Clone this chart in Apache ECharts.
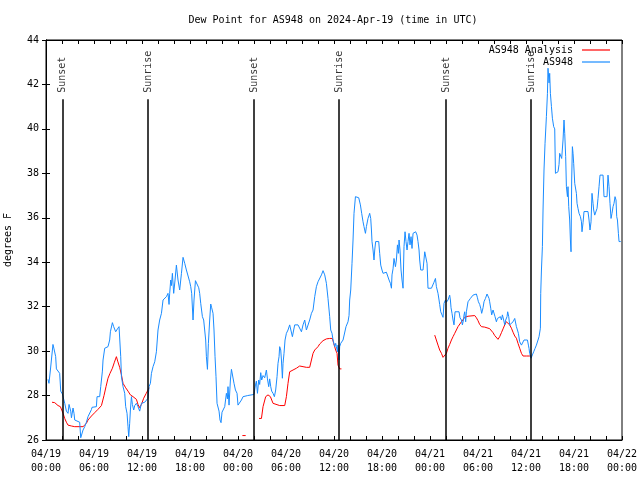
<!DOCTYPE html>
<html><head><meta charset="utf-8">
<script src="https://cdn.jsdelivr.net/npm/echarts@6/dist/echarts.min.js"></script>
<style>html,body{margin:0;padding:0;background:#fff}#c{width:640px;height:480px}</style>
</head><body><div id="c"></div>
<script>
// ---- data (hours since 2024-04-19 00:00 UTC, degrees F) ----
const titleText = 'Dew Point for AS948 on 2024-Apr-19 (time in UTC)';
const seriesNames = ['AS948 Analysis', 'AS948'];
const dayLabels = ['04/19', '04/20', '04/21', '04/22'];
const yMin = 26, yMax = 44, yStep = 2;
const xMin = 0, xMax = 72, xStep = 2, xLabelStep = 6;

// hourly analysis (null = gap)
const analysisObs = [
[0.75,27.7],[1.09,27.68],[1.3,27.6],[1.5,27.55],[1.8,27.5],[1.93,27.43],[2.13,27.2],[2.34,26.97],[2.55,26.8],[2.75,26.67],[3.18,26.63],[3.59,26.6],[4.0,26.6],[4.21,26.63],[4.63,26.6],[5.05,26.75],[5.25,26.9],[5.68,27.08],[6.09,27.23],[6.5,27.38],[6.93,27.55],[7.25,28.0],[7.5,28.4],[7.75,28.78],[8.0,29.0],[8.3,29.23],[8.55,29.5],[8.8,29.75],[8.96,29.55],[9.21,29.27],[9.43,28.93],[9.63,28.55],[9.96,28.35],[10.25,28.2],[10.55,28.03],[10.88,27.95],[11.3,27.83],[11.5,27.6],[11.68,27.46],[11.93,27.6],[12.21,27.88],[12.53,28.1],[12.75,28.25],[12.88,28.35],
[13.5,null],
[24.55,26.2],[24.96,26.2],
[25.8,null],
[26.63,26.97],[26.93,26.97],[27.13,27.5],[27.46,27.95],[27.75,28.03],[28.05,27.95],[28.38,27.65],[28.59,27.57],[29.21,27.55],[29.84,27.55],[30.05,27.95],[30.25,28.55],[30.46,29.07],[30.88,29.15],[31.3,29.23],[31.71,29.33],[32.13,29.3],[32.55,29.27],[32.96,29.27],[33.18,29.6],[33.38,29.9],[33.59,30.05],[34.0,30.2],[34.21,30.32],[34.63,30.47],[35.05,30.55],[35.46,30.57],[35.8,30.57],[35.96,30.35],[36.21,30.05],[36.38,29.9],[36.5,29.37],[36.71,29.2],[36.93,29.2],
[42.0,null],
[48.59,30.72],[48.8,30.65],[49.0,30.27],[49.21,30.05],[49.43,29.9],[49.63,29.72],[49.84,29.75],[50.05,29.9],[50.25,30.13],[50.46,30.3],[50.68,30.5],[50.88,30.65],[51.09,30.8],[51.5,31.1],[51.93,31.32],[52.34,31.52],[52.75,31.57],[53.59,31.6],[53.8,31.5],[54.0,31.37],[54.21,31.2],[54.43,31.1],[54.84,31.08],[55.46,31.01],[55.68,30.98],[55.88,30.83],[56.09,30.7],[56.3,30.62],[56.5,30.53],[56.71,30.65],[56.93,30.83],[57.13,31.0],[57.34,31.18],[57.55,31.32],[57.75,31.32],[57.96,31.18],[58.18,31.03],[58.38,30.85],[58.59,30.68],[58.8,30.58],[59.0,30.35],[59.21,30.13],[59.43,29.9],[59.63,29.78],[60.05,29.78],[60.46,29.78],[60.68,29.78]
];

// station observations
const stationObs = [
[0.25,28.73],[0.37,28.55],[0.55,29.15],[0.87,30.3],[1.0,30.1],[1.21,29.75],[1.3,29.2],[1.71,29.0],[1.84,28.2],[2.05,28.07],[2.34,27.65],[2.55,27.3],[2.75,27.2],[2.88,27.6],[3.09,27.3],[3.18,27.0],[3.38,27.44],[3.5,27.2],[3.59,26.9],[3.8,26.95],[4.21,26.8],[4.34,26.1],[4.63,26.45],[4.84,26.6],[5.05,26.8],[5.25,27.05],[5.46,27.05],[5.68,27.37],[5.75,27.47],[6.3,27.5],[6.38,27.95],[6.71,27.95],[6.84,28.4],[7.05,29.1],[7.13,29.6],[7.34,30.13],[7.75,30.2],[7.96,30.5],[8.05,30.87],[8.3,31.28],[8.46,31.1],[8.71,30.87],[8.93,31.0],[9.13,31.1],[9.25,31.15],[9.34,29.75],[9.43,28.85],[9.63,28.4],[9.84,28.1],[9.96,27.5],[10.13,27.2],[10.25,26.6],[10.34,26.15],[10.46,26.75],[10.55,27.35],[10.68,27.95],[10.8,27.6],[10.96,27.35],[11.09,27.55],[11.3,27.65],[11.5,27.5],[11.71,27.3],[11.93,27.65],[12.34,27.7],[12.75,27.88],[12.88,28.4],[13.05,28.55],[13.18,29.0],[13.38,29.3],[13.59,29.52],[13.8,29.97],[14.0,30.95],[14.21,31.4],[14.43,31.7],[14.63,32.3],[14.84,32.35],[15.05,32.45],[15.25,32.6],[15.38,32.1],[15.46,32.6],[15.59,33.2],[15.68,32.95],[15.8,33.5],[15.96,32.6],[16.13,33.2],[16.3,33.87],[16.5,33.2],[16.71,32.75],[16.93,33.5],[17.13,34.22],[17.34,33.95],[17.55,33.65],[17.75,33.65],[17.96,33.12],[18.09,32.9],[18.21,32.6],[18.38,31.4],[18.5,32.3],[18.68,33.17],[18.88,33.12],[19.09,32.85],[19.21,32.6],[19.34,32.15],[19.55,31.55],[19.71,31.4],[19.84,31.4],[19.96,30.5],[20.05,29.75],[20.18,29.18],[20.3,30.35],[20.46,31.4],[20.59,32.12],[20.71,31.95],[20.88,31.7],[21.0,30.95],[21.13,29.75],[21.25,28.85],[21.38,27.65],[21.5,27.6],[21.63,27.3],[21.75,26.9],[21.88,26.78],[22.0,27.25],[22.21,27.3],[22.34,27.5],[22.55,28.1],[22.68,27.85],[22.75,28.4],[22.88,27.57],[23.05,28.7],[23.18,29.18],[23.38,29.18],[23.5,28.55],[23.68,28.25],[23.88,28.1],[24.0,27.57],[24.21,27.57],[24.43,27.8],[24.63,27.95],[25.21,28.0],[26.0,28.05],
[26.18,28.48],[26.3,28.65],[26.43,28.1],[26.59,28.7],[26.71,28.5],[26.84,29.03],[26.96,28.7],[27.13,28.9],[27.34,28.8],[27.55,29.15],[27.68,28.75],[27.84,28.4],[27.96,28.75],[28.09,28.4],[28.21,28.2],[28.38,28.1],[28.55,27.95],[28.71,28.25],[28.88,28.85],[29.0,29.45],[29.13,29.75],[29.21,30.2],[29.34,30.05],[29.43,29.6],[29.55,28.78],[29.63,29.45],[29.75,29.9],[29.88,30.5],[30.05,30.8],[30.25,30.95],[30.46,31.18],[30.68,31.25],[30.8,30.65],[30.96,30.95],[31.09,31.18],[31.5,31.18],[31.71,31.1],[31.93,30.87],[32.13,31.18],[32.34,31.4],[32.55,30.95],[32.75,31.02],[32.96,31.4],[33.18,31.7],[33.38,31.85],[33.59,32.45],[33.8,32.9],[34.0,33.12],[34.21,33.2],[34.43,33.43],[34.63,33.62],[34.84,33.43],[35.05,33.05],[35.25,32.37],[35.46,31.55],[35.59,30.95],[35.75,30.8],[35.88,30.5],[36.09,30.2],[36.21,30.35],[36.3,30.2],[36.43,29.97],[36.5,30.27],[36.63,29.6],[36.71,30.2],[36.84,30.35],[37.13,30.5],[37.34,30.5],[37.5,31.1],[37.75,31.32],[37.88,31.6],[37.96,32.3],[38.09,32.75],[38.25,33.95],[38.38,35.0],[38.5,36.2],[38.68,36.95],[38.88,37.03],[39.09,36.9],[39.3,36.58],[39.46,36.2],[39.63,35.82],[39.75,35.6],[39.93,35.3],[40.05,35.6],[40.25,35.97],[40.46,36.2],[40.59,35.97],[40.68,35.45],[40.75,34.93],[40.88,34.55],[41.0,34.1],[41.09,34.55],[41.21,34.93],[41.38,35.0],[41.59,34.93],[41.71,34.4],[41.84,33.87],[42.0,33.65],[42.13,33.5],[42.34,33.57],[42.55,33.55],[42.75,33.6],[42.88,33.2],[43.05,33.05],[43.18,32.83],[43.25,33.43],[43.38,33.7],[43.5,34.17],[43.68,33.8],[43.8,34.1],[43.93,34.78],[44.05,34.4],[44.13,35.0],[44.25,34.55],[44.38,33.65],[44.5,33.2],[44.63,32.83],[44.75,34.7],[44.88,35.37],[45.0,34.93],[45.13,34.55],[45.25,34.93],[45.38,35.3],[45.5,34.78],[45.63,35.15],[45.75,34.62],[45.88,35.3],[46.09,35.3],[46.21,35.37],[46.38,35.22],[46.5,34.93],[46.63,34.55],[46.71,34.1],[46.84,33.65],[47.13,33.65],[47.34,34.47],[47.55,34.47],[47.63,33.95],[47.75,32.83],[48.18,32.83],[48.38,32.83],[48.5,33.1],[48.68,33.27],[48.8,32.9],[49.0,32.6],[49.13,32.3],[49.21,32.1],[49.34,31.77],[49.5,31.7],[49.63,31.52],[49.75,32.15],[49.93,32.3],[50.05,32.2],[50.25,32.3],[50.46,32.52],[50.55,32.3],[50.63,31.95],[50.75,31.7],[50.88,31.4],[51.0,31.18],[51.13,31.77],[51.3,31.85],[51.63,31.77],[51.75,31.5],[51.93,31.4],[52.05,31.18],[52.18,31.4],[52.25,31.62],[52.34,31.77],[52.46,31.32],[52.55,31.77],[52.75,32.22],[52.88,32.3],[53.05,32.37],[53.18,32.45],[53.38,32.52],[53.59,32.57],[53.8,32.57],[53.93,32.4],[54.05,32.22],[54.21,32.1],[54.34,31.93],[54.46,31.7],[54.55,31.62],[54.63,31.95],[54.75,32.22],[54.93,32.37],[55.13,32.57],[55.25,32.52],[55.38,32.37],[55.46,32.22],[55.59,31.93],[55.71,31.63],[55.88,31.85],[56.0,31.77],[56.13,31.55],[56.3,31.32],[56.43,31.47],[56.63,31.55],[56.8,31.55],[56.93,31.4],[57.05,31.63],[57.21,31.4],[57.34,31.18],[57.46,31.4],[57.63,31.55],[57.71,31.77],[57.84,31.55],[57.96,31.18],[58.18,31.25],[58.38,31.32],[58.59,31.47],[58.71,31.4],[58.8,31.1],[58.93,30.95],[59.05,30.8],[59.21,30.42],[59.43,30.27],[59.63,30.2],[59.75,30.5],[59.96,30.5],[60.18,30.5],[60.3,30.27],[60.38,30.12],[60.46,29.9],[60.63,29.68],[60.8,29.83],[60.96,29.97],[61.13,30.12],[61.3,30.27],[61.5,30.5],[61.63,30.65],[61.8,31.03],[61.84,32.6],[61.93,33.65],[62.05,34.7],[62.13,36.35],[62.25,38.15],[62.38,39.35],[62.55,40.55],[62.68,41.6],[62.75,42.73],[62.88,42.07],[62.96,42.5],[63.05,41.6],[63.18,41.0],[63.3,40.48],[63.46,40.1],[63.59,40.0],[63.68,38.0],[63.8,37.93],[64.0,38.07],[64.13,38.4],[64.21,38.9],[64.34,38.82],[64.46,38.67],[64.55,38.6],[64.63,39.5],[64.75,40.4],[64.84,39.8],[64.96,38.75],[65.05,37.4],[65.18,36.95],[65.25,37.4],[65.34,36.5],[65.46,35.9],[65.55,35.0],[65.63,34.47],[65.71,37.7],[65.8,39.2],[65.88,38.9],[65.96,38.45],[66.09,37.55],[66.3,37.1],[66.38,36.65],[66.5,36.42],[66.63,36.2],[66.8,36.05],[66.93,35.82],[67.0,35.37],[67.13,35.78],[67.25,36.28],[67.75,36.28],[67.88,35.9],[68.0,35.45],[68.13,35.82],[68.25,37.1],[68.38,36.65],[68.46,36.35],[68.59,36.12],[68.71,36.2],[68.88,36.42],[69.0,36.87],[69.13,37.4],[69.25,37.92],[69.63,37.92],[69.75,36.95],[70.13,36.95],[70.25,37.92],[70.38,37.4],[70.5,36.65],[70.63,35.97],[70.75,36.2],[70.88,36.5],[71.0,36.65],[71.13,36.95],[71.25,36.8],[71.34,36.05],[71.43,35.9],[71.55,35.3],[71.63,34.93],[71.84,34.93]
];

// sunrise / sunset events
const sunHours = [2.1, 12.75, 26.0, 36.63, 50.0, 60.63];
const sunNames = ['Sunset', 'Sunrise', 'Sunset', 'Sunrise', 'Sunset', 'Sunrise'];
const sunLineTop = 41.33;

// ---- chart ----
const MONO = '"DejaVu Sans Mono", "Liberation Mono", monospace';
const pad2 = n => (n < 10 ? '0' : '') + n;
const xLabel = v => (v % xLabelStep === 0) ? dayLabels[Math.floor(v / 24)] + '\n' + pad2(v % 24) + ':00' : '';
const axisBase = {
  axisLine: {show: true, lineStyle: {color: '#000', width: 1}},
  axisTick: {show: true, inside: true, length: 4, lineStyle: {color: '#000'}},
  splitLine: {show: false}
};
const chart = echarts.init(document.getElementById('c'), null, {renderer: 'canvas'});
const legendBase = {
  orient: 'vertical', align: 'right', right: 30, padding: 0,
  itemWidth: 28, itemHeight: 1.2, itemGap: 0, icon: 'rect',
  textStyle: {fontFamily: MONO, fontSize: 10, color: '#000', padding: [0, 4, 0, 0], lineHeight: 12}
};
chart.setOption({
  animation: false,
  backgroundColor: '#fff',
  textStyle: {fontFamily: MONO},
  title: {
    text: titleText, left: 328, top: 10, textAlign: 'center',
    textStyle: {fontFamily: MONO, fontSize: 10, fontWeight: 'normal', color: '#000'}
  },
  legend: [
    Object.assign({}, legendBase, {data: [seriesNames[0]], top: 44}),
    Object.assign({}, legendBase, {data: [seriesNames[1]], top: 56})
  ],
  grid: {left: 46, right: 18, top: 40, bottom: 40, containLabel: false, outerBoundsMode: 'none',
         show: true, borderColor: '#000', borderWidth: 1, backgroundColor: 'transparent'},
  xAxis: [
    Object.assign({}, axisBase, {
      type: 'value', min: xMin, max: xMax, interval: xStep, position: 'bottom',
      axisLabel: {formatter: xLabel, fontFamily: MONO, fontSize: 10, color: '#000', lineHeight: 14, margin: 7, hideOverlap: false}
    }),
    Object.assign({}, axisBase, {
      type: 'value', min: xMin, max: xMax, interval: xStep, position: 'top', axisLabel: {show: false}
    })
  ],
  yAxis: [
    Object.assign({}, axisBase, {
      type: 'value', min: yMin, max: yMax, interval: yStep, position: 'left',
      name: 'degrees F', nameLocation: 'middle', nameGap: 33, nameRotate: 90,
      nameTextStyle: {fontFamily: MONO, fontSize: 10, color: '#000'},
      axisLabel: {fontFamily: MONO, fontSize: 10, color: '#000', margin: 7}
    }),
    Object.assign({}, axisBase, {
      type: 'value', min: yMin, max: yMax, interval: yStep, position: 'right', axisLabel: {show: false}
    })
  ],
  series: [
    {
      name: 'sun', type: 'scatter', xAxisIndex: 0, yAxisIndex: 0, silent: true,
      symbolSize: 1, itemStyle: {color: 'rgba(0,0,0,0)'},
      data: sunHours.map((h, i) => ({value: [h, sunLineTop], name: sunNames[i]})),
      label: {
        show: true, formatter: p => p.name, position: 'top', distance: 6, rotate: 90,
        align: 'left', verticalAlign: 'middle', color: '#000', fontFamily: MONO, fontSize: 10
      },
      markLine: {
        silent: true, symbol: ['none', 'none'], animation: false,
        label: {show: false},
        lineStyle: {color: '#000', width: 1.5, type: 'solid'},
        data: sunHours.map(h => [{coord: [h, yMin]}, {coord: [h, sunLineTop]}])
      },
      z: 1
    },
    {
      name: seriesNames[0], type: 'line', xAxisIndex: 0, yAxisIndex: 0,
      data: analysisObs.map(d => [d[0], d[1] === null ? '-' : d[1]]),
      showSymbol: false, symbol: 'none', connectNulls: false,
      lineStyle: {color: '#ff0000', width: 1}, itemStyle: {color: '#ff0000'}, z: 2
    },
    {
      name: seriesNames[1], type: 'line', xAxisIndex: 0, yAxisIndex: 0,
      data: stationObs,
      showSymbol: false, symbol: 'none',
      lineStyle: {color: '#1a8cff', width: 1}, itemStyle: {color: '#1a8cff'}, z: 3
    }
  ]
});
</script>
</body></html>
